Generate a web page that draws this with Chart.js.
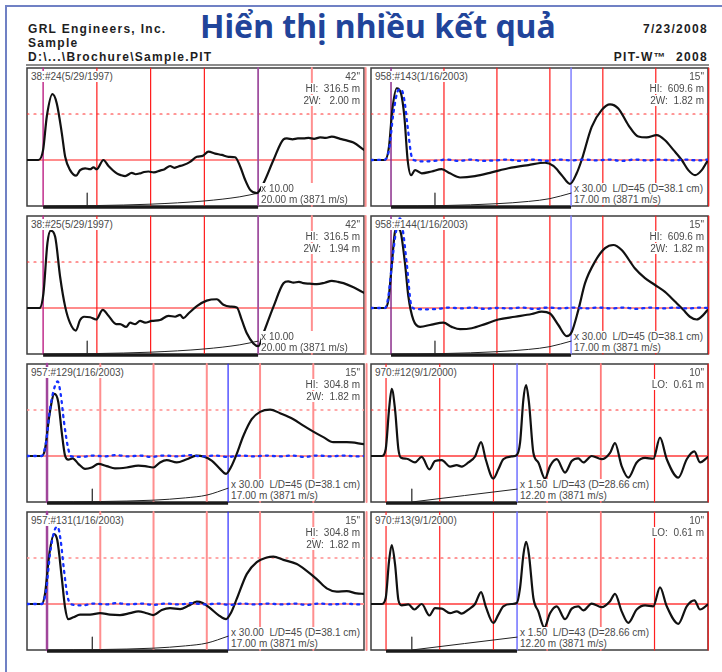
<!DOCTYPE html>
<html lang="vi">
<head>
<meta charset="UTF-8" />
<title>Hiển thị nhiều kết quả</title>
<script src="https://cdn.jsdelivr.net/npm/chart.js"></script>
<style>
  body { margin: 0; width: 722px; height: 672px; position: relative; overflow: hidden; background: #fff;
         font-family: "Liberation Sans", Arial, sans-serif; }
  .frame-top { position: absolute; left: 5px; top: 5px; width: 717px; height: 2px; background: #7081c4; }
  .frame-left { position: absolute; left: 5px; top: 5px; width: 2px; height: 667px; background: #7081c4; }
  .head { position: absolute; font-weight: bold; font-size: 12px; line-height: 14px; letter-spacing: 1.3px;
          color: #1e1e1e; white-space: pre; }
  #title { position: absolute; left: 200px; top: 10px; font-family: "Noto Sans", sans-serif; font-weight: bold;
           font-size: 32px; line-height: 32px; color: #21449a; white-space: pre; }
  .rule { position: absolute; left: 26px; top: 64px; width: 683px; height: 2px; background: #8c8c8c; }
  .panel { position: absolute; width: 337px; height: 138px; }
  .panel canvas { position: absolute; }
  .txt { position: absolute; font-size: 10px; line-height: 11px; color: #4a4a4a; white-space: pre; z-index: 2;
         background: #fff; }
  .foot { padding-right: 2px; }
</style>
</head>
<body>
<div class="frame-top"></div>
<div class="frame-left"></div>
<div class="head" style="left:28px;top:22px">GRL Engineers, Inc.</div>
<div class="head" style="left:28px;top:36px">Sample</div>
<div class="head" style="left:28px;top:50px">D:\...\Brochure\Sample.PIT</div>
<div id="title">Hiển thị nhiều kết quả</div>
<div class="head" style="right:14px;top:22px">7/23/2008</div>
<div class="head" style="right:14px;top:50px">PIT-W™  2008</div>
<div class="rule"></div>
<script>
// depth (m) / normalised velocity pairs
const p24Trace = [[-1.5,0],[-0.44,0],[0,0.22],[0.34,0.94],[0.87,1.43],[1.27,1.23],[1.74,0.58],[2.05,0.07],[2.51,-0.22],
  [3.07,-0.34],[3.44,-0.22],[3.91,-0.18],[4.37,-0.2],[4.68,-0.16],[4.99,-0.2],[5.61,0],[6.08,-0.13],[6.85,-0.29],
  [7.25,-0.33],[7.63,-0.35],[8.25,-0.28],[8.6,-0.31],[9.02,-0.29],[9.4,-0.26],[9.8,-0.25],[10.3,-0.27],[10.88,-0.23],
  [11.3,-0.2],[11.81,-0.13],[12.2,-0.17],[12.59,-0.14],[13.05,-0.11],[13.67,-0.04],[14.3,0.07],[14.85,0.09],
  [15.38,0.18],[16,0.14],[16.62,0.11],[17.24,0.07],[17.86,0.06],[18.33,-0.14],[18.79,-0.43],[19.26,-0.65],
  [19.88,-0.72],[20.49,-0.51],[21.43,0],[22.36,0.45],[22.67,0.47],[23.2,0.45],[23.7,0.47],[24.22,0.47],[24.7,0.48],
  [25.2,0.46],[25.77,0.49],[26.3,0.48],[26.85,0.51],[27.63,0.46],[28.3,0.42],[28.87,0.38],[29.85,0.22]];
const p25Trace = [[-1.5,0],[-0.34,0],[0.03,0.32],[0.4,1.41],[0.71,1.68],[1.12,1.55],[1.58,0.68],[2.05,0.03],[2.51,-0.33],
  [3.04,-0.49],[3.44,-0.26],[3.81,-0.19],[4.37,-0.2],[4.93,-0.25],[5.55,-0.04],[6.08,-0.17],[6.79,-0.35],[7.16,-0.35],
  [7.72,-0.41],[8.09,-0.32],[8.56,-0.35],[9.02,-0.28],[9.49,-0.32],[10.11,-0.28],[10.88,-0.26],[11.66,-0.17],
  [12.28,-0.19],[12.74,-0.15],[13.05,-0.22],[13.52,-0.12],[14.3,0.04],[15.22,0.16],[16.16,0.19],[16.77,0.07],
  [17.4,0.03],[18.02,0.01],[18.48,-0.26],[18.95,-0.55],[19.56,-0.77],[20.03,-0.83],[20.49,-0.55],[21.43,0.03],
  [22.36,0.54],[22.8,0.58],[23.29,0.55],[23.8,0.57],[24.22,0.54],[24.8,0.53],[25.46,0.52],[26.2,0.55],[26.85,0.59],
  [27.4,0.57],[27.94,0.54],[28.87,0.45],[29.85,0.33]];
const p143Trace = [[-1.89,0],[-0.57,0],[-0.19,0.29],[0.12,1.09],[0.54,1.56],[0.94,1.45],[1.26,0.94],[1.57,0],[1.89,-0.33],
  [2.27,-0.22],[2.9,-0.29],[3.84,-0.25],[4.78,-0.2],[5.57,-0.29],[6.52,-0.38],[7.93,-0.35],[9.5,-0.27],[11.08,-0.18],
  [12.97,-0.11],[14.54,-0.06],[15.33,-0.13],[16.12,-0.33],[16.9,-0.52],[17.53,-0.29],[18,0],[18.95,0.72],[19.9,1.09],
  [20.68,1.21],[21.46,1.12],[22.41,0.76],[23.35,0.51],[24.14,0.49],[25.09,0.54],[25.87,0.43],[26.66,0.22],[27.45,0],
  [28.07,-0.22],[28.71,-0.33],[29.34,-0.22],[29.93,0]];
const p143Model = [[-1.89,0],[-0.57,0.01],[-0.19,0.22],[0.22,1.01],[0.69,1.52],[0.94,1.54],[1.26,1.3],[1.57,0.72],
  [1.95,0.07],[2.27,-0.01],[3.2,-0.03],[4.1,-0.02],[5.3,0.01],[6.4,-0.02],[7.5,0.01],[8.6,-0.02],[9.8,-0.01],[11,0.01],
  [12.2,-0.02],[13.4,0.01],[14.6,-0.02],[15.8,0.01],[17,-0.01],[18.2,0.01],[19.4,-0.01],[20.6,0.01],[21.8,-0.02],
  [23,0.01],[24.2,-0.01],[25.4,0.01],[26.6,-0.01],[27.8,0.01],[29,-0.01],[29.93,0.01]];
const p144Trace = [[-1.89,0],[-0.57,0],[-0.25,0.17],[0.06,0.9],[0.38,1.66],[0.62,1.73],[0.94,1.62],[1.32,0.97],[1.64,0.25],
  [2.11,-0.26],[2.74,-0.41],[3.84,-0.36],[4.94,-0.32],[5.73,-0.41],[6.52,-0.46],[7.62,-0.44],[8.88,-0.35],[10.13,-0.25],
  [11.71,-0.19],[13.29,-0.13],[14.23,-0.08],[15.01,-0.12],[15.8,-0.37],[16.59,-0.61],[17.06,-0.52],[17.69,-0.04],
  [18.32,0.54],[19.26,1.01],[20.21,1.3],[20.99,1.37],[21.78,1.26],[23.04,0.86],[23.98,0.65],[24.93,0.5],[25.87,0.35],
  [26.81,0.14],[27.6,-0.04],[28.22,-0.19],[28.87,-0.25],[29.49,-0.15],[29.93,-0.03]];
const p144Model = [[-1.89,0],[-0.57,0],[-0.25,0.25],[0.06,0.9],[0.44,1.62],[0.85,1.95],[1.16,1.62],[1.48,0.97],
  [1.95,0.03],[2.4,-0.02],[3.3,-0.03],[4.4,-0.02],[5.5,0.01],[6.6,-0.01],[7.7,0.01],[8.8,-0.02],[10,0],[11.2,-0.01],
  [12.4,0.01],[13.6,-0.02],[14.8,0.01],[16,-0.01],[17.2,0.01],[18.4,-0.01],[19.6,0.01],[20.8,-0.01],[22,0.01],
  [23.2,-0.02],[24.4,0.01],[25.6,-0.01],[26.8,0.01],[28,-0.01],[29.2,0.01],[29.93,0]];
const p129Trace = [[-1.88,0],[-0.5,0],[-0.19,0.15],[0.22,0.88],[0.69,1.35],[1.06,1.17],[1.38,0.52],[1.69,0.01],[2,-0.08],
  [2.41,-0.05],[2.94,-0.17],[3.57,-0.28],[4.19,-0.25],[4.82,-0.17],[5.6,-0.22],[6.38,-0.27],[7.48,-0.25],[8.57,-0.21],
  [9.2,-0.22],[9.98,-0.25],[10.61,-0.14],[11.24,-0.09],[12.18,-0.14],[13.12,-0.07],[14.06,0.01],[14.68,-0.01],
  [15.46,-0.1],[16.24,-0.28],[16.81,-0.39],[17.25,-0.25],[17.75,0.01],[18.44,0.44],[19.22,0.8],[20,0.96],[20.94,1.01],
  [21.88,0.93],[23.13,0.8],[24.07,0.66],[25,0.53],[25.94,0.41],[26.88,0.3],[28.14,0.3],[29.76,0.26]];
const p129Model = [[-1.88,0],[-0.5,0],[-0.09,0.3],[0.28,1.02],[0.75,1.53],[1,1.62],[1.28,1.35],[1.6,0.73],[2,0.15],
  [2.3,-0.01],[3.2,-0.02],[4.3,0.01],[5.4,-0.01],[6.5,0.02],[7.6,-0.01],[8.7,0.01],[9.8,-0.02],[11,0.01],[12.2,-0.01],
  [13.4,0.02],[14.6,-0.01],[15.8,0.01],[17,-0.02],[18.2,0.01],[19.4,-0.01],[20.6,0.01],[21.8,-0.01],[23,0.01],
  [24.2,-0.02],[25.4,0.01],[26.6,-0.01],[27.8,0.01],[29,-0.01],[29.76,0]];
const p131Trace = [[-1.88,0],[-0.5,0],[-0.19,0.22],[0.22,1.09],[0.66,1.52],[0.97,1.38],[1.38,0.58],[1.69,-0.07],[2,-0.33],
  [2.47,-0.29],[3.1,-0.23],[4.04,-0.23],[4.98,-0.2],[5.92,-0.23],[6.85,-0.24],[7.79,-0.2],[8.57,-0.16],[9.36,-0.2],
  [9.98,-0.24],[10.77,-0.13],[11.55,-0.09],[12.49,-0.11],[13.27,-0.04],[14.06,0.05],[14.62,0.02],[15.31,-0.09],
  [16.09,-0.24],[16.81,-0.33],[17.25,-0.2],[17.81,0.11],[18.75,0.65],[19.69,0.91],[20.63,1.01],[21.25,1.03],
  [22.19,0.96],[23.45,0.87],[24.38,0.72],[25.32,0.54],[26.26,0.34],[27.2,0.27],[28.14,0.28],[29.08,0.23],[29.76,0.22]];
const p131Model = [[-1.88,0],[-0.5,0],[-0.09,0.29],[0.28,1.09],[0.69,1.59],[1,1.68],[1.28,1.38],[1.6,0.72],[1.94,0.15],
  [2.3,-0.01],[3.3,-0.03],[4.4,0.01],[5.5,-0.01],[6.6,0.02],[7.7,-0.01],[8.8,0.01],[10,-0.02],[11.2,0.01],[12.4,-0.01],
  [13.6,0.02],[14.8,-0.01],[16,0.01],[17.2,-0.02],[18.4,0.01],[19.6,-0.01],[20.8,0.01],[22,-0.01],[23.2,0.01],
  [24.4,-0.02],[25.6,0.01],[26.8,-0.01],[28,0.01],[29.2,-0.01],[29.76,0]];
const p12Trace = [[-1.4,0],[-0.4,0],[-0.03,0.15],[0.28,1.01],[0.53,1.46],[0.84,1.01],[1.15,0.15],[1.4,-0.04],[1.93,-0.06],
  [2.7,-0.14],[3.32,-0.02],[4.04,-0.29],[4.56,-0.11],[5.19,-0.09],[5.96,-0.23],[6.58,-0.2],[7.05,-0.23],[7.67,-0.14],
  [8.29,-0.01],[8.85,0.3],[9.28,-0.07],[9.99,-0.49],[10.46,-0.29],[10.92,-0.07],[11.7,-0.01],[12.17,0.02],[12.48,0.29],
  [12.79,1.23],[13.04,1.54],[13.31,1.16],[13.72,0.07],[14.18,-0.14],[14.8,-0.49],[15.27,-0.22],[15.89,-0.07],
  [16.67,-0.36],[17.29,-0.11],[17.9,-0.05],[18.37,-0.14],[19.15,0],[20.08,-0.07],[20.86,0.07],[21.32,0.28],
  [21.94,-0.22],[22.56,-0.47],[23.34,-0.14],[24.12,-0.04],[24.89,-0.06],[25.51,0.4],[26.14,-0.07],[27.22,-0.47],
  [28,-0.07],[28.71,0.1],[29.24,-0.14],[29.98,-0.02]];
const p13Trace = [[-1.4,0],[-0.4,0],[-0.03,0.13],[0.28,0.93],[0.53,1.28],[0.84,0.86],[1.15,0.09],[1.46,-0.03],[2.08,-0.01],
  [2.64,-0.12],[3.32,0],[4.04,-0.25],[4.56,-0.09],[5.19,-0.1],[5.96,-0.2],[6.58,-0.16],[7.05,-0.21],[7.67,-0.12],
  [8.29,0],[8.85,0.26],[9.28,-0.05],[9.99,-0.41],[10.46,-0.23],[10.92,-0.05],[11.7,0],[12.17,0.02],[12.48,0.35],
  [12.79,1.07],[13.04,1.35],[13.31,1.07],[13.72,0.13],[14.18,-0.16],[14.74,-0.51],[15.27,-0.2],[15.89,-0.05],
  [16.67,-0.33],[17.29,-0.1],[17.9,-0.05],[18.37,-0.14],[19.15,0.01],[20.08,-0.07],[20.86,0.06],[21.32,0.22],
  [21.94,-0.16],[22.56,-0.41],[23.34,-0.12],[24.12,-0.03],[24.89,-0.05],[25.51,0.36],[26.14,-0.05],[27.22,-0.43],
  [28,-0.05],[28.71,0.08],[29.24,-0.12],[29.98,-0.01]];

// amplification curves (depth, level)
const ampLong = [[0,-1],[5,-0.99],[10,-0.96],[15,-0.89],[18.3,-0.8],[20,-0.72]];
const ampMid = [[0,-1],[5,-0.99],[10,-0.95],[13,-0.9],[15,-0.84],[17,-0.72]];
const ampMid2 = [[0,-1],[5,-0.99],[10,-0.96],[13,-0.91],[15,-0.85],[17,-0.7]];
const ampShort = [[2.4,-1],[12.2,-0.72]];

const gridDepths = [0, 5, 10, 15, 20, 25, 30];

const PW = 337, PH = 138;
const PAD = { left: 6, right: 8, top: 3, bottom: 6 };

const kinds = {
  A: { start: ['#c02d8c', 1.5], grid: d => d >= 25 ? ['#ff9090', 2] : ['#ff1a1a', 1.2], toe: ['#a050a0', 1.8],
       zero: ['#ff1a1a', 1.2], dot: ['#ff3030', 1.2] },
  B: { start: ['#8b2f8b', 1.5], grid: () => ['#ff1a1a', 1.2], toe: ['#8080ff', 1.5],
       zero: ['#ff1a1a', 1.2], dot: ['#ff3030', 1.2] },
  C: { start: ['#a0459a', 2.5], grid: () => ['#ff8f8f', 2], toe: ['#2a2aff', 1.2],
       zero: ['#ff8f8f', 2], dot: ['#ff8f8f', 1.3] },
  D: { start: ['#ff2020', 1.2], grid: d => (d === 15 || d === 20) ? ['#ff7a7a', 1.8] : ['#ff2020', 1.2],
       toe: ['#7070ff', 1.5], zero: ['#ff3a3a', 1.5], dot: ['#ff3030', 1.2] }
};

const panels = [
  { left: 27, top: 68, kind: 'A', xMin: -1.5, xMax: 29.85, toe: 20, tick: 4.1, trace: p24Trace, model: null, amp: ampLong,
    label: '38:#24(5/29/1997)', info: ['42"', 'HI:  316.5 m', '2W:   2.00 m'], foot: ['x 10.00', '20.00 m (3871 m/s)'] },
  { left: 371, top: 68, kind: 'B', xMin: -1.89, xMax: 29.93, toe: 17, tick: 4.15, trace: p143Trace, model: p143Model, amp: ampMid,
    label: '958:#143(1/16/2003)', info: ['15"', 'HI:  609.6 m', '2W:  1.82 m'], foot: ['x 30.00  L/D=45 (D=38.1 cm)', '17.00 m (3871 m/s)'] },
  { left: 27, top: 216, kind: 'A', xMin: -1.5, xMax: 29.85, toe: 20, tick: 4.1, trace: p25Trace, model: null, amp: ampLong,
    label: '38:#25(5/29/1997)', info: ['42"', 'HI:  316.5 m', '2W:   1.94 m'], foot: ['x 10.00', '20.00 m (3871 m/s)'] },
  { left: 371, top: 216, kind: 'B', xMin: -1.89, xMax: 29.93, toe: 17, tick: 4.15, trace: p144Trace, model: p144Model, amp: ampMid,
    label: '958:#144(1/16/2003)', info: ['15"', 'HI:  609.6 m', '2W:  1.82 m'], foot: ['x 30.00  L/D=45 (D=38.1 cm)', '17.00 m (3871 m/s)'] },
  { left: 27, top: 364, kind: 'C', xMin: -1.88, xMax: 29.76, toe: 17, tick: 4.25, trace: p129Trace, model: p129Model, amp: ampMid2,
    label: '957:#129(1/16/2003)', info: ['15"', 'HI:  304.8 m', '2W:  1.82 m'], foot: ['x 30.00  L/D=45 (D=38.1 cm)', '17.00 m (3871 m/s)'] },
  { left: 371, top: 364, kind: 'D', xMin: -1.4, xMax: 29.98, toe: 12.2, tick: 2.4, trace: p12Trace, model: null, amp: ampShort,
    label: '970:#12(9/1/2000)', info: ['10"', 'LO:  0.61 m'], foot: ['x 1.50  L/D=43 (D=28.66 cm)', '12.20 m (3871 m/s)'] },
  { left: 27, top: 512, kind: 'C', xMin: -1.88, xMax: 29.76, toe: 17, tick: 4.25, trace: p131Trace, model: p131Model, amp: ampMid2,
    label: '957:#131(1/16/2003)', info: ['15"', 'HI:  304.8 m', '2W:  1.82 m'], foot: ['x 30.00  L/D=45 (D=38.1 cm)', '17.00 m (3871 m/s)'] },
  { left: 371, top: 512, kind: 'D', xMin: -1.4, xMax: 29.98, toe: 12.2, tick: 2.4, trace: p13Trace, model: null, amp: ampShort,
    label: '970:#13(9/1/2000)', info: ['10"', 'LO:  0.61 m'], foot: ['x 1.50  L/D=43 (D=28.66 cm)', '12.20 m (3871 m/s)'] }
];

const framePlugin = {
  id: 'frame',
  beforeDatasetsDraw(chart) {
    const { ctx, chartArea: a } = chart;
    ctx.save();
    ctx.strokeStyle = '#3d3d3d';
    ctx.lineWidth = 1.5;
    ctx.strokeRect(a.left, a.top, a.right - a.left, a.bottom - a.top);
    ctx.restore();
  }
};

const toPoints = pairs => pairs.map(([x, y]) => ({ x, y }));

function vline(x, style, order) {
  return { data: [{ x, y: -1 }, { x, y: 2 }], borderColor: style[0], borderWidth: style[1], order, clip: false };
}

function addText(wrap, text, css, cls) {
  const d = document.createElement('div');
  d.className = 'txt' + (cls ? ' ' + cls : '');
  d.textContent = text;
  Object.assign(d.style, css);
  wrap.appendChild(d);
  return d;
}

function buildPanel(p) {
  const k = kinds[p.kind];
  const wrap = document.createElement('div');
  wrap.className = 'panel';
  wrap.style.left = p.left + 'px';
  wrap.style.top = p.top + 'px';
  document.body.appendChild(wrap);

  const canvas = document.createElement('canvas');
  canvas.width = PW + PAD.left + PAD.right;
  canvas.height = PH + PAD.top + PAD.bottom;
  canvas.style.left = -PAD.left + 'px';
  canvas.style.top = -PAD.top + 'px';
  wrap.appendChild(canvas);

  const ds = [];
  if (p.model) {
    ds.push({ data: toPoints(p.model), borderColor: '#1530ff', borderWidth: 2.3, borderDash: [2, 5], order: 0 });
  }
  ds.push({ data: toPoints(p.trace), borderColor: '#111', borderWidth: 2.2, order: 1 });
  ds.push({ data: toPoints(p.amp), borderColor: '#222', borderWidth: 1, order: 2 });
  ds.push({ data: [{ x: p.tick, y: -1 }, { x: p.tick, y: -0.72 }], borderColor: '#333', borderWidth: 1.3, order: 2 });
  ds.push({ data: [{ x: 0, y: -1.025 }, { x: p.toe, y: -1.025 }], borderColor: '#1a1a1a', borderWidth: 3,
            borderCapStyle: 'butt', order: 2, clip: false });
  ds.push(vline(0, k.start, 4));
  ds.push(vline(p.toe, k.toe, 4));
  gridDepths.filter(d => d > 0 && d !== p.toe).forEach(d => ds.push(vline(d, k.grid(d), 5)));
  ds.push({ data: [{ x: p.xMin, y: 0 }, { x: p.xMax, y: 0 }], borderColor: k.zero[0], borderWidth: k.zero[1], order: 6 });
  ds.push({ data: [{ x: p.xMin, y: 1 }, { x: p.xMax, y: 1 }], borderColor: k.dot[0], borderWidth: k.dot[1],
            borderDash: [2, 5], order: 6 });

  const chart = new Chart(canvas, {
    type: 'scatter',
    data: { datasets: ds.map(d => Object.assign({ showLine: true, pointRadius: 0, cubicInterpolationMode: 'monotone',
                                                   borderCapStyle: 'round', fill: false }, d)) },
    options: {
      responsive: false,
      animation: false,
      events: [],
      layout: { padding: PAD },
      plugins: { legend: { display: false }, tooltip: { enabled: false } },
      scales: {
        x: { type: 'linear', min: p.xMin, max: p.xMax, display: false },
        y: { type: 'linear', min: -1, max: 2, display: false }
      }
    },
    plugins: [framePlugin]
  });

  addText(wrap, p.label, { left: '4px', top: '3px' });
  p.info.forEach((t, i) => addText(wrap, t, { right: '4px', top: (3 + i * 12) + 'px' }));
  const toeX = chart.scales.x.getPixelForValue(p.toe) - PAD.left;
  addText(wrap, p.foot.join('\n'), { left: (toeX + 3) + 'px', top: '115px' }, 'foot');
}

panels.forEach(buildPanel);
</script>
</body>
</html>
